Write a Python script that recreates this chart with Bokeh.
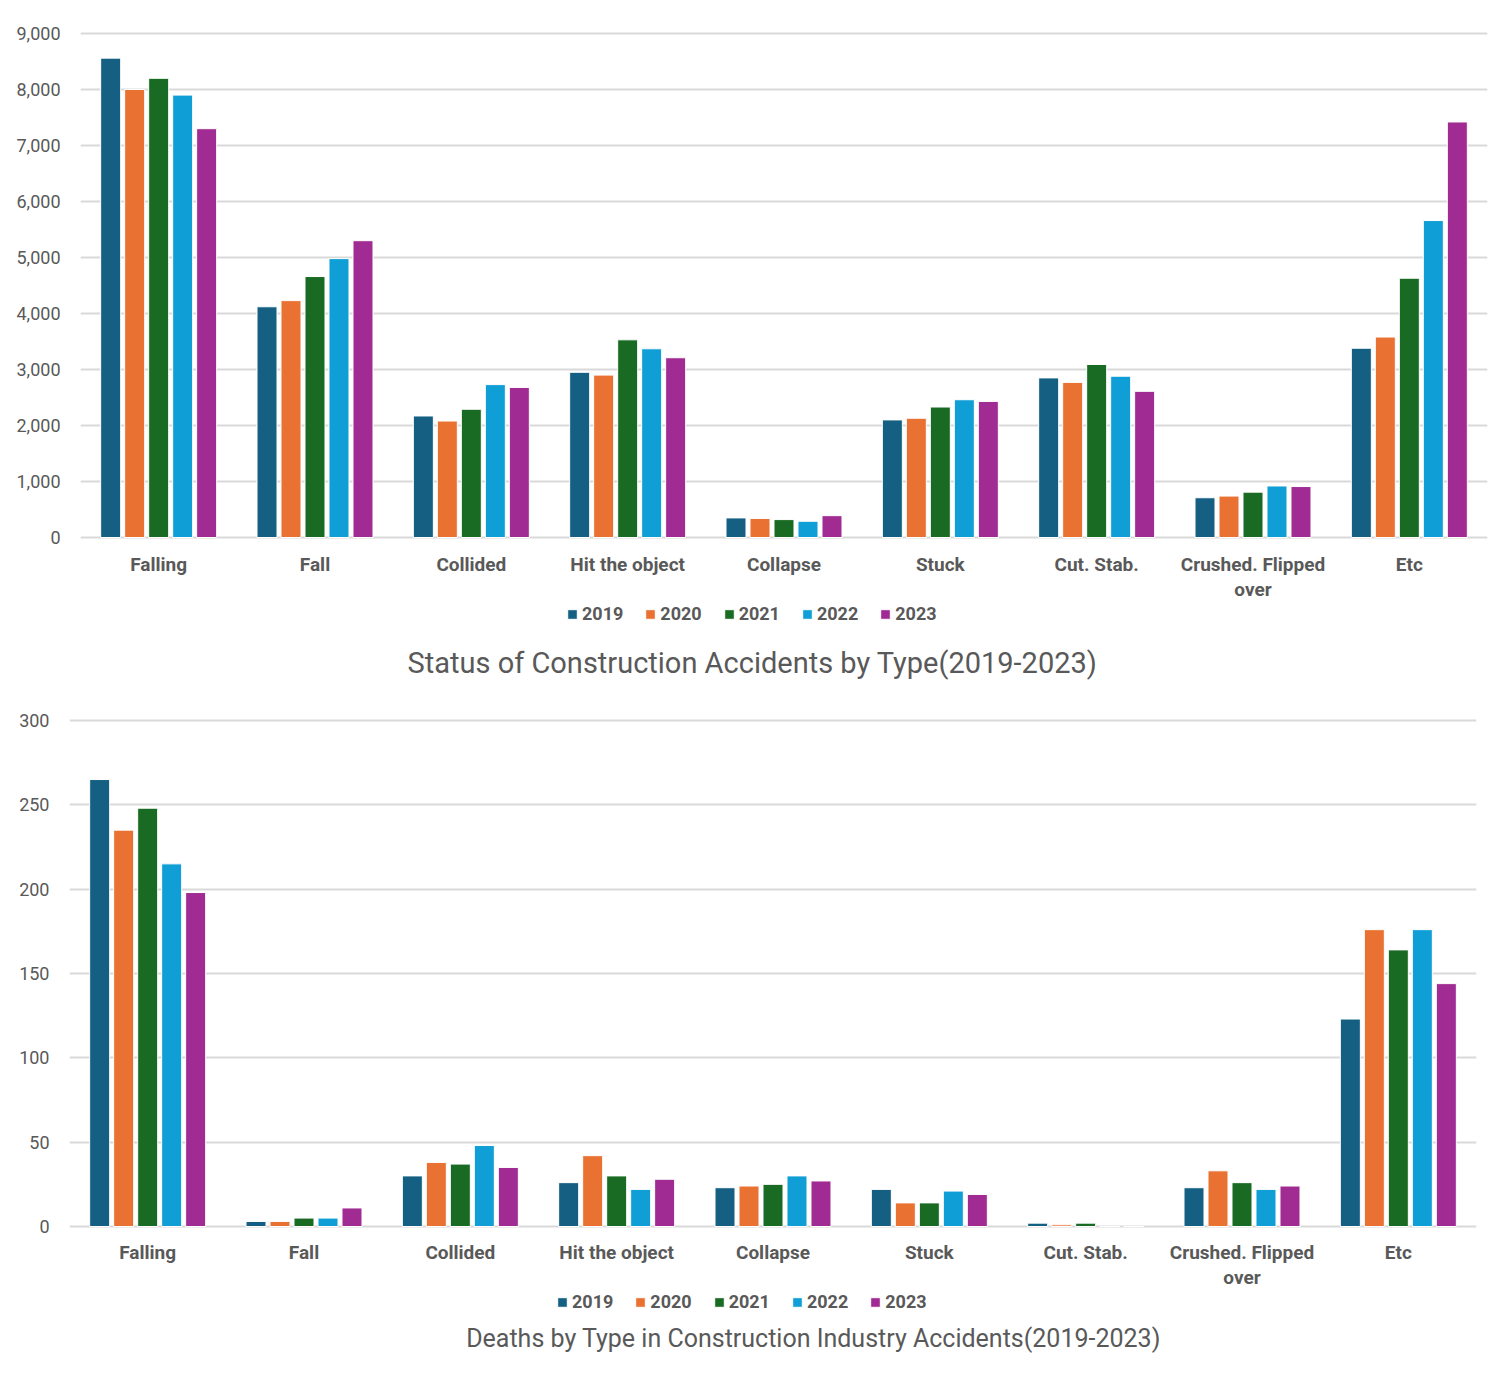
from bokeh.plotting import figure
from bokeh.models import (ColumnDataSource, FactorRange, Range1d, Legend, LegendItem,
                          Label, NumeralTickFormatter, SingleIntervalTicker, Spacer)
from bokeh.transform import dodge
from bokeh.layouts import column, row
from bokeh.embed import file_html
from bokeh.resources import INLINE

# ---------------- data ----------------
categories = ["Falling", "Fall", "Collided", "Hit the object", "Collapse", "Stuck",
              "Cut. Stab.", "Crushed. Flipped\nover", "Etc"]
years = ["2019", "2020", "2021", "2022", "2023"]

accidents_2019 = [8560, 4120, 2170, 2950, 350, 2100, 2850, 710, 3380]
accidents_2020 = [8000, 4230, 2080, 2900, 340, 2130, 2770, 740, 3580]
accidents_2021 = [8200, 4660, 2290, 3530, 320, 2330, 3090, 810, 4630]
accidents_2022 = [7900, 4980, 2730, 3370, 290, 2460, 2880, 920, 5660]
accidents_2023 = [7300, 5300, 2680, 3210, 390, 2430, 2610, 910, 7420]

deaths_2019 = [265, 3, 30, 26, 23, 22, 2, 23, 123]
deaths_2020 = [235, 3, 38, 42, 24, 14, 1, 33, 176]
deaths_2021 = [248, 5, 37, 30, 25, 14, 2, 26, 164]
deaths_2022 = [215, 5, 48, 22, 30, 21, 0, 22, 176]
deaths_2023 = [198, 11, 35, 28, 27, 19, 0, 24, 144]

title_top = "Status of Construction Accidents by Type(2019-2023)"
title_bottom = "Deaths by Type in Construction Industry Accidents(2019-2023)"

colors = ["#156082", "#E97132", "#196B24", "#0F9ED5", "#A02B93"]
TEXT = "#595959"
GRID = "#D9D9D9"
FONT = "Roboto"
W = 1495
BL = 69   # left border (same for every figure in the column)
BR = 19   # right border


def make_chart(series, y_max, y_step, fmt, border_top, frame_h, border_bottom, axis_standoff):
    data = {"cat": categories}
    for y, s in zip(years, series):
        data[y] = s
    src = ColumnDataSource(data)

    pad = y_max * 2.0 / (frame_h - 4)   # ~2px so the edge gridlines stay visible
    p = figure(x_range=FactorRange(factors=categories, range_padding=0),
               y_range=Range1d(-pad, y_max + pad),
               width=W, height=border_top + frame_h + border_bottom,
               output_backend="svg", toolbar_location=None,
               min_border_left=BL, min_border_right=BR,
               min_border_top=border_top, min_border_bottom=border_bottom)
    p.outline_line_color = None
    p.background_fill_color = "white"
    p.border_fill_color = "white"

    step = 0.1535
    for i, y in enumerate(years):
        p.vbar(x=dodge("cat", (i - 2) * step, range=p.x_range), top=y, width=0.128,
               source=src, fill_color=colors[i], line_color="white", line_width=1)

    p.xgrid.grid_line_color = None
    p.ygrid.grid_line_color = GRID
    p.ygrid.grid_line_width = 2

    p.yaxis.ticker = SingleIntervalTicker(interval=y_step)
    p.yaxis.formatter = NumeralTickFormatter(format=fmt)
    for ax in (p.xaxis[0], p.yaxis[0]):
        ax.axis_line_color = None
        ax.major_tick_line_color = None
        ax.minor_tick_line_color = None
        ax.major_label_text_color = TEXT
        ax.major_label_text_font = FONT
    p.yaxis.major_label_text_font_size = "18px"
    p.yaxis.major_label_standoff = 14
    p.xaxis.major_label_text_font_size = "19px"
    p.xaxis.major_label_text_font_style = "bold"
    p.xaxis.major_label_text_line_height = 1.1
    p.xaxis.major_label_standoff = axis_standoff
    p.xaxis.major_label_orientation = "horizontal"
    return p


def make_footer(height, legend_x, legend_center_y, title_text, title_size, title_x, title_y):
    f = figure(width=W, height=height, x_range=Range1d(BL, W - BR), y_range=Range1d(height, 0),
               output_backend="svg", toolbar_location=None,
               x_axis_type=None, y_axis_type=None,
               min_border_left=BL, min_border_right=BR, min_border_top=0, min_border_bottom=0)
    f.outline_line_color = None
    f.xgrid.grid_line_color = None
    f.ygrid.grid_line_color = None
    f.background_fill_color = "white"
    f.border_fill_color = "white"
    # zero-size placeholder glyphs that only carry the legend swatch colours
    rs = [f.vbar(x=[0], top=[0], width=0, fill_color=c, line_color="white", line_width=1)
          for c in colors]
    legend = Legend(items=[LegendItem(label=y, renderers=[r]) for y, r in zip(years, rs)],
                    orientation="horizontal",
                    location=(legend_x - BL, height - legend_center_y - 10),
                    glyph_width=12, glyph_height=12, label_standoff=4, spacing=21,
                    padding=0, margin=0, border_line_color=None,
                    background_fill_alpha=0, label_height=20,
                    label_text_font=FONT, label_text_font_size="18px",
                    label_text_font_style="bold", label_text_color=TEXT)
    f.add_layout(legend, "center")
    f.add_layout(Label(x=title_x, y=title_y, text=title_text, text_align="center",
                       text_baseline="middle", text_font=FONT, text_font_size=title_size,
                       text_color=TEXT))
    return f


# top chart: 0..604, footer 604..700, bottom chart 700..1292, footer 1292..1380
top = make_chart([accidents_2019, accidents_2020, accidents_2021, accidents_2022, accidents_2023],
                 9000, 1000, "0,0", 31, 508, 65, 7)
top_footer = make_footer(96, 566, 10, title_top, "29px", 752, 58)
bottom = make_chart([deaths_2019, deaths_2020, deaths_2021, deaths_2022, deaths_2023],
                    300, 50, "0", 18, 510, 64, 6)
bottom_footer = make_footer(88, 556, 10, title_bottom, "25px", 813, 46)

layout = column(row(Spacer(width=11), top, spacing=0), top_footer, bottom, bottom_footer,
                spacing=0)
open("out.html", "w").write(file_html(layout, INLINE))
